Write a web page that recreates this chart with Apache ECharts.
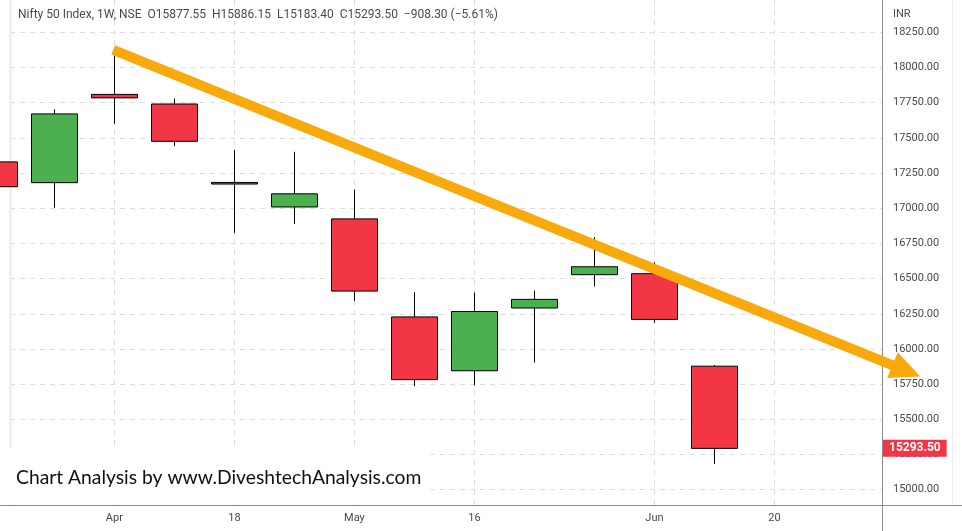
<!DOCTYPE html>
<html>
<head>
<meta charset="utf-8">
<script src="https://cdn.jsdelivr.net/npm/echarts@6/dist/echarts.min.js"></script>
<style>
html,body{margin:0;padding:0;background:#fff;}
#chart{width:962px;height:531px;}
</style>
</head>
<body>
<div id="chart"></div>
<script>
// ---- data ----
const weeks  = ['Mar 21','Mar 28','Apr 4','Apr 11','Apr 18','Apr 25','May 2','May 9','May 16','May 23','May 30','Jun 6','Jun 13'];
const openP  = [17329.5, 17181.85, 17809.1, 17740.9, 17183.45, 17009.05, 16924.45, 16227.7, 15845.1, 16290.95, 16527.9, 16535.0, 15877.55];
const closeP = [17153.0, 17670.45, 17784.35, 17475.65, 17171.95, 17102.55, 16411.25, 15782.15, 16266.15, 16352.45, 16584.3, 16210.0, 15293.5];
const lowP   = [17006.3, 17003.75, 17600.55, 17442.35, 16824.7, 16888.75, 16340.9, 15735.75, 15740.85, 15903.7, 16444.55, 16185.0, 15183.4];
const highP  = [17442.4, 17703.7, 18114.65, 17779.05, 17414.7, 17400.8, 17132.85, 16403.7, 16400.55, 16414.7, 16793.85, 16617.0, 15886.15];
const xTickPos    = [2, 4, 6, 8, 11, 13];
const xTickLabels = ['Apr', '18', 'May', '16', 'Jun', '20'];
const yTicks = [15000, 15250, 15500, 15750, 16000, 16250, 16500, 16750, 17000, 17250, 17500, 17750, 18000, 18250];
const trendFrom = [1.98, 18125];
const trendTo   = [15.2, 15845];
const lastClose = 15293.5;
const headerText = 'Nifty 50 Index, 1W, NSE  O15877.55  H15886.15  L15183.40  C15293.50  \u2212908.30 (\u22125.61%)';
const watermark = 'Chart Analysis by www.DiveshtechAnalysis.com';

// ---- build ----
const candleData = weeks.map((w, i) => [i, openP[i], closeP[i], lowP[i], highP[i]]);
const X_MIN = 0.26, X_MAX = 14.793, X_MAX_WIDE = 16.127;
const Y_MIN = 14891, Y_MAX = 18480;
const labelColor = '#4a4a4a';
const gridColor = '#dcdde3';
const axisColor = '#8c8c8c';

const chart = echarts.init(document.getElementById('chart'), null, {renderer: 'canvas'});
chart.setOption({
  animation: false,
  backgroundColor: '#ffffff',
  grid: [
    {left: 10, right: 80, top: 0, bottom: 26},
    {left: 10, right: 0, top: 0, bottom: 26}
  ],
  xAxis: [{
    type: 'value', gridIndex: 0, min: X_MIN, max: X_MAX,
    axisLine: {show: true, lineStyle: {color: axisColor, width: 1}},
    axisTick: {show: false, customValues: xTickPos},
    axisLabel: {
      customValues: xTickPos, margin: 8, color: labelColor,
      fontFamily: 'Liberation Sans Narrow, Roboto, sans-serif', fontSize: 11,
      formatter: v => xTickLabels[xTickPos.indexOf(Math.round(v))] || ''
    },
    splitLine: {show: true, lineStyle: {color: gridColor, type: [5, 5], width: 1}}
  }, {
    type: 'value', gridIndex: 1, min: X_MIN, max: X_MAX_WIDE, show: false
  }],
  yAxis: [{
    type: 'value', gridIndex: 0, position: 'right', min: Y_MIN, max: Y_MAX, scale: true,
    axisLine: {show: true, lineStyle: {color: axisColor, width: 1}},
    axisTick: {show: false, customValues: yTicks},
    axisLabel: {
      customValues: yTicks, margin: 11, color: labelColor,
      fontFamily: 'Roboto, sans-serif', fontSize: 11,
      formatter: v => v.toFixed(2)
    },
    splitLine: {show: true, lineStyle: {color: gridColor, type: [5, 5], width: 1}}
  }, {
    type: 'value', gridIndex: 1, min: Y_MIN, max: Y_MAX, scale: true, show: false
  }],
  series: [{
    type: 'candlestick',
    xAxisIndex: 0, yAxisIndex: 0,
    barWidth: 46,
    data: candleData,
    encode: {x: 0, y: [1, 2, 3, 4]},
    itemStyle: {
      color: '#4caf50', color0: '#f23645',
      borderColor: '#000000', borderColor0: '#000000', borderWidth: 1
    },
    markLine: {
      silent: true, symbol: 'none',
      lineStyle: {color: 'rgba(0,0,0,0)', width: 0, type: 'solid'},
      label: {
        show: true,
        position: 'end', distance: 1,
        formatter: lastClose.toFixed(2),
        backgroundColor: '#f23645', color: '#ffffff',
        fontFamily: 'Roboto, sans-serif', fontSize: 12, fontWeight: 'bold',
        padding: [3, 6, 2, 6]
      },
      data: [{yAxis: lastClose}]
    }
  }, {
    type: 'line', xAxisIndex: 1, yAxisIndex: 1,
    data: [], symbol: 'none',
    markLine: {
      silent: true,
      symbol: ['none', 'triangle'],
      symbolSize: [28, 30],
      lineStyle: {color: '#f8a90c', width: 10, type: 'solid', cap: 'butt'},
      itemStyle: {color: '#f8a90c'},
      label: {show: false},
      data: [[{coord: trendFrom}, {coord: trendTo}]]
    }
  }],
  graphic: [
    {type: 'line', shape: {x1: 10.5, y1: 0, x2: 10.5, y2: 505}, style: {stroke: '#ececec', lineWidth: 2}, z: 1},
    {type: 'line', shape: {x1: 952.5, y1: 0, x2: 952.5, y2: 505}, style: {stroke: '#ececec', lineWidth: 1}, z: 1},
    {type: 'line', shape: {x1: 0, y1: 505.5, x2: 962, y2: 505.5}, style: {stroke: axisColor, lineWidth: 1}, z: 1},
    {type: 'line', shape: {x1: 882.5, y1: 505, x2: 882.5, y2: 531}, style: {stroke: axisColor, lineWidth: 1}, z: 1},
    {type: 'text', x: 18, y: 15, z: 10,
     style: {text: headerText, fill: labelColor, font: '12px Roboto, sans-serif', textVerticalAlign: 'middle'}},
    {type: 'text', x: 893, y: 14, z: 10,
     style: {text: 'INR', fill: labelColor, font: '11px Roboto, sans-serif', textVerticalAlign: 'middle'}},
    {type: 'rect', shape: {x: 0, y: 448, width: 430, height: 56}, style: {fill: '#ffffff'}, z: 5},
    {type: 'text', x: 16, y: 478, z: 10,
     style: {text: watermark, fill: '#111111', font: '19.3px Lato, sans-serif', textVerticalAlign: 'middle'}}
  ]
});
</script>
</body>
</html>
